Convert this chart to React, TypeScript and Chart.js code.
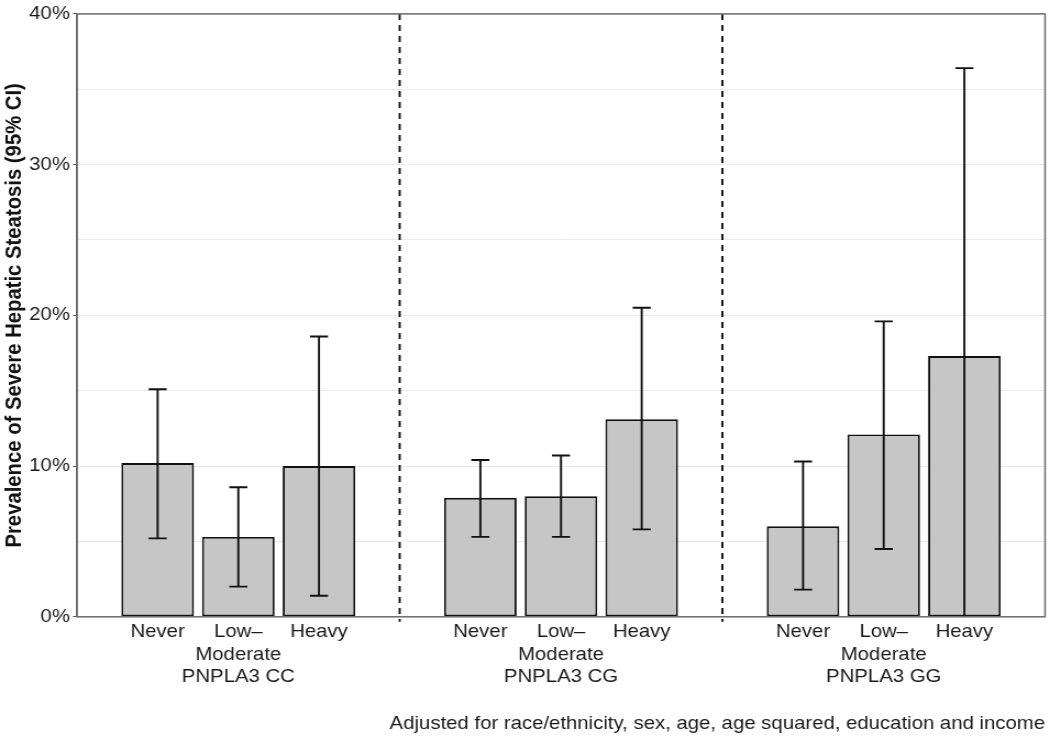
import React, { useEffect, useRef } from "react";
import { Chart, registerables } from "chart.js";

Chart.register(...registerables);

const categoryLabels: string[][] = [["Never"], ["Low\u2013", "Moderate"], ["Heavy"]];
const genotypes = ["PNPLA3 CC", "PNPLA3 CG", "PNPLA3 GG"];
const prevalence = [10.2, 5.3, 10.0, 7.9, 8.0, 13.1, 6.0, 12.1, 17.3];
const ciLower = [5.2, 2.0, 1.4, 5.3, 5.3, 5.8, 1.8, 4.5, 0.0];
const ciUpper = [15.1, 8.6, 18.6, 10.4, 10.7, 20.5, 10.3, 19.6, 36.4];
const yTickValues = [0, 10, 20, 30, 40];
const yTitle = "Prevalence of Severe Hepatic Steatosis (95% CI)";
const caption = "Adjusted for race/ethnicity, sex, age, age squared, education and income";

const FONT = "'Liberation Sans', Arial, Helvetica, sans-serif";
// the reference's lettering is slightly wide; the canvas is drawn narrower and shown at full width
const STRETCH = 1.1;
const W = 1050;
const H = 738;
const CW = Math.round(W / STRETCH);

const slots = categoryLabels.length + 1;

const points = prevalence.map((v, i) => {
  const g = Math.floor(i / categoryLabels.length);
  const c = i % categoryLabels.length;
  return { x: g * slots + c + 1, y: v };
});

const overlayPlugin = {
  id: "overlay",
  afterDatasetsDraw(chart: any) {
    const { ctx, chartArea, scales } = chart;
    const xs = scales.x;
    const ys = scales.y;
    ctx.save();
    // dashed panel separators
    ctx.strokeStyle = "#111";
    ctx.lineWidth = 1.9;
    ctx.setLineDash([6, 5]);
    for (let g = 1; g < genotypes.length; g++) {
      const px = xs.getPixelForValue(g * slots);
      ctx.beginPath();
      ctx.moveTo(px, chartArea.top);
      ctx.lineTo(px, chartArea.bottom + 5);
      ctx.stroke();
    }
    ctx.setLineDash([]);
    // error bars
    ctx.strokeStyle = "#111";
    ctx.lineWidth = 1.9;
    points.forEach((p, i) => {
      const px = xs.getPixelForValue(p.x);
      const lo = ys.getPixelForValue(ciLower[i]);
      const hi = ys.getPixelForValue(ciUpper[i]);
      const cap = 8.2;
      ctx.beginPath();
      ctx.moveTo(px, lo);
      ctx.lineTo(px, hi);
      ctx.moveTo(px - cap, hi);
      ctx.lineTo(px + cap, hi);
      if (ciLower[i] > 0) {
        ctx.moveTo(px - cap, lo);
        ctx.lineTo(px + cap, lo);
      }
      ctx.stroke();
    });
    // panel border
    ctx.strokeStyle = "#6b6b6b";
    ctx.lineWidth = 1.5;
    ctx.strokeRect(chartArea.left, chartArea.top, chartArea.right - chartArea.left, chartArea.bottom - chartArea.top);
    ctx.restore();
  },
};

export default function App() {
  const ref = useRef<HTMLCanvasElement | null>(null);
  useEffect(() => {
    document.body.style.margin = "0";
    if (!ref.current) return;
    const chart = new Chart(ref.current, {
      type: "bar",
      data: {
        datasets: [
          {
            data: points as any,
            backgroundColor: "#c6c6c6",
            borderColor: "#111",
            borderWidth: 1.9,
            borderSkipped: false,
            barPercentage: 0.9,
            categoryPercentage: 1,
          },
        ],
      },
      options: {
        animation: false,
        responsive: false,
        devicePixelRatio: 1,
        layout: { padding: { top: 12, right: 4.5, bottom: 0, left: 0 } },
        plugins: {
          legend: { display: false },
          tooltip: { enabled: false },
          title: {
            display: true,
            text: caption,
            position: "bottom",
            align: "end",
            color: "#1a1a1a",
            font: { family: FONT, size: 18.5, weight: "normal", lineHeight: 1.2 },
            padding: { top: 0, bottom: 3 },
          },
        },
        scales: {
          x: {
            type: "linear",
            offset: false,
            min: 0,
            max: genotypes.length * slots,
            grid: { display: false, drawTicks: false },
            border: { display: false },
            afterFit: (s: any) => {
              s.height = 96;
            },
            afterBuildTicks: (s: any) => {
              const t: any[] = [];
              for (let v = 0; v <= genotypes.length * slots; v++) t.push({ value: v });
              s.ticks = t;
            },
            ticks: {
              autoSkip: false,
              maxRotation: 0,
              padding: 4.4,
              color: "#1a1a1a",
              font: { family: FONT, size: 18.5, lineHeight: 1.2 },
              callback: (v: any) => {
                const n = Math.round(Number(v));
                const c = (n % slots) - 1;
                const g = Math.floor(n / slots);
                if (c < 0 || g >= genotypes.length) return "";
                const lines = [...categoryLabels[c]];
                if (c === Math.floor(categoryLabels.length / 2)) {
                  while (lines.length < 2) lines.push("");
                  lines.push(genotypes[g]);
                }
                return lines;
              },
            },
          },
          y: {
            min: yTickValues[0],
            max: yTickValues[yTickValues.length - 1],
            afterFit: (s: any) => {
              s.width = 70;
            },
            ticks: {
              stepSize: (yTickValues[1] - yTickValues[0]) / 2,
              padding: 2.8,
              color: "#1a1a1a",
              font: { family: FONT, size: 18.5 },
              callback: (v: any) => (yTickValues.includes(Number(v)) ? `${v}%` : ""),
            },
            grid: {
              color: "#ebebeb",
              lineWidth: 1,
              tickLength: 3.6,
              tickColor: (ctx: any) =>
                ctx.tick && yTickValues.includes(ctx.tick.value) ? "#555" : "rgba(0,0,0,0)",
            },
            border: { display: true, color: "#6b6b6b", width: 1.5 },
            title: {
              display: true,
              text: yTitle,
              color: "#111",
              font: { family: FONT, size: 20.3, weight: "bold", lineHeight: 1.2 },
              padding: { top: 1, bottom: 0 },
            },
          },
        },
      },
      plugins: [overlayPlugin],
    });
    return () => chart.destroy();
  }, []);
  return (
    <div style={{ width: W, height: H, background: "#fff", overflow: "hidden" }}>
      <canvas
        ref={ref}
        width={CW}
        height={H}
        style={{ display: "block", width: `${W}px`, height: `${H}px` }}
      />
    </div>
  );
}
